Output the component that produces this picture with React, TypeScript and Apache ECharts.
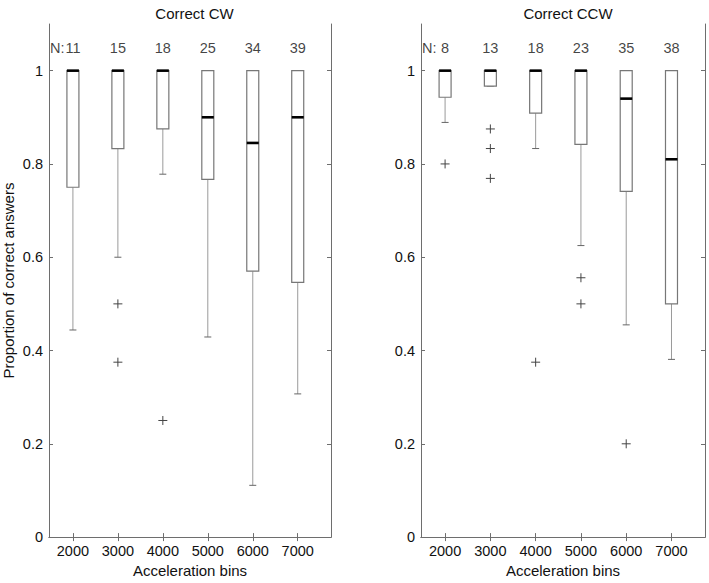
import React, { useEffect, useRef } from "react";
import * as echarts from "echarts";

// Acceleration bins (x positions)
const bins = [2000, 3000, 4000, 5000, 6000, 7000];

// Correct CW: [lowWhisker, Q1, median, Q3, highWhisker]
const cwLow = [0.444, 0.6, 0.778, 0.429, 0.111, 0.307];
const cwQ1 = [0.75, 0.833, 0.875, 0.767, 0.57, 0.546];
const cwMed = [1, 1, 1, 0.9, 0.845, 0.9];
const cwQ3 = [1, 1, 1, 1, 1, 1];
const cwHigh = [1, 1, 1, 1, 1, 1];
const cwN = [11, 15, 18, 25, 34, 39];
const cwOutliers: [number, number][] = [
  [3000, 0.5],
  [3000, 0.375],
  [4000, 0.25],
];

// Correct CCW
const ccwLow = [0.889, 0.967, 0.833, 0.625, 0.455, 0.381];
const ccwQ1 = [0.943, 0.967, 0.909, 0.842, 0.741, 0.5];
const ccwMed = [1, 1, 1, 1, 0.94, 0.81];
const ccwQ3 = [1, 1, 1, 1, 1, 1];
const ccwHigh = [1, 1, 1, 1, 1, 1];
const ccwN = [8, 13, 18, 23, 35, 38];
const ccwOutliers: [number, number][] = [
  [2000, 0.8],
  [3000, 0.875],
  [3000, 0.833],
  [3000, 0.769],
  [4000, 0.375],
  [5000, 0.556],
  [5000, 0.5],
  [6000, 0.2],
];

const titles = ["Correct CW", "Correct CCW"];
const yTickValues = [0, 0.2, 0.4, 0.6, 0.8, 1];

const FONT = "Liberation Sans, Arial, sans-serif";
const FRAME = "#6e6e6e";
const TXT = "#111";
const X_MIN = 1468;
const X_MAX = 7740;
const N_Y = 1.049;
const TICK_FS = 14.5;
const NAME_FS = 15;

function boxData(low: number[], q1: number[], med: number[], q3: number[], high: number[]) {
  return bins.map((b, i) => [b, low[i], q1[i], med[i], q3[i], high[i]]);
}

const renderBox = (params: any, api: any) => {
  const x = api.value(0);
  const pLow = api.coord([x, api.value(1)]);
  const pQ1 = api.coord([x, api.value(2)]);
  const pMed = api.coord([x, api.value(3)]);
  const pQ3 = api.coord([x, api.value(4)]);
  const pHigh = api.coord([x, api.value(5)]);
  const cx = pQ1[0];
  const hw = 6;
  const cap = 3.5;
  const whisk = { stroke: "#9a9a9a", lineWidth: 1 };
  return {
    type: "group",
    children: [
      { type: "line", shape: { x1: cx, y1: pQ1[1], x2: cx, y2: pLow[1] }, style: whisk },
      { type: "line", shape: { x1: cx - cap, y1: pLow[1], x2: cx + cap, y2: pLow[1] }, style: { stroke: "#666", lineWidth: 1 } },
      { type: "line", shape: { x1: cx, y1: pQ3[1], x2: cx, y2: pHigh[1] }, style: whisk },
      {
        type: "rect",
        shape: { x: cx - hw, y: pQ3[1], width: hw * 2, height: pQ1[1] - pQ3[1] },
        style: { fill: "#fff", stroke: "#777", lineWidth: 1.2 },
      },
      { type: "line", shape: { x1: cx - hw, y1: pMed[1], x2: cx + hw, y2: pMed[1] }, style: { stroke: "#000", lineWidth: 2.6 } },
    ],
  };
};

const renderPlus = (params: any, api: any) => {
  const p = api.coord([api.value(0), api.value(1)]);
  const s = 4.5;
  const st = { stroke: "#444", lineWidth: 1 };
  return {
    type: "group",
    children: [
      { type: "line", shape: { x1: p[0] - s, y1: p[1], x2: p[0] + s, y2: p[1] }, style: st },
      { type: "line", shape: { x1: p[0], y1: p[1] - s, x2: p[0], y2: p[1] + s }, style: st },
    ],
  };
};

export default function App() {
  const ref = useRef<HTMLDivElement>(null);
  useEffect(() => {
    if (!ref.current) return;
    const chart = echarts.init(ref.current, undefined, { renderer: "svg" });

    const grids = [
      { left: 48, top: 24, width: 283, bottom: 40 },
      { left: 421, top: 24, width: 284, bottom: 40 },
    ];
    const xAxis: any[] = [];
    const yAxis: any[] = [];
    grids.forEach((g, gi) => {
      xAxis.push({
        type: "value",
        gridIndex: gi,
        min: X_MIN,
        max: X_MAX,
        position: "bottom",
        name: "Acceleration bins",
        nameLocation: "middle",
        nameGap: 24,
        nameTextStyle: { fontSize: NAME_FS, color: TXT, fontFamily: FONT },
        axisLine: { show: true, lineStyle: { color: FRAME } },
        axisTick: { show: true, inside: true, length: 4, lineStyle: { color: FRAME }, customValues: bins },
        axisLabel: {
          show: true,
          fontSize: TICK_FS,
          color: TXT,
          fontFamily: FONT,
          margin: 6,
          customValues: bins,
          formatter: (v: number) => String(v),
        },
        splitLine: { show: false },
      });
      xAxis.push({
        type: "value",
        gridIndex: gi,
        min: X_MIN,
        max: X_MAX,
        position: "top",
        axisLine: { show: true, lineStyle: { color: FRAME } },
        axisTick: { show: true, inside: true, length: 4, lineStyle: { color: FRAME }, customValues: bins },
        axisLabel: { show: false },
        splitLine: { show: false },
      });
      yAxis.push({
        type: "value",
        gridIndex: gi,
        min: 0,
        max: 1.1,
        position: "left",
        name: gi === 0 ? "Proportion of correct answers" : "",
        nameLocation: "middle",
        nameGap: 33,
        nameTextStyle: { fontSize: NAME_FS, color: TXT, fontFamily: FONT },
        axisLine: { show: true, lineStyle: { color: FRAME } },
        axisTick: { show: true, inside: true, length: 4, lineStyle: { color: FRAME }, customValues: yTickValues },
        axisLabel: {
          show: true,
          fontSize: TICK_FS,
          color: TXT,
          fontFamily: FONT,
          margin: 6,
          customValues: yTickValues,
          formatter: (v: number) => String(Math.round(v * 10) / 10),
        },
        splitLine: { show: false },
      });
      yAxis.push({
        type: "value",
        gridIndex: gi,
        min: 0,
        max: 1.1,
        position: "right",
        axisLine: { show: true, lineStyle: { color: FRAME } },
        axisTick: { show: true, inside: true, length: 4, lineStyle: { color: FRAME }, customValues: yTickValues },
        axisLabel: { show: false },
        splitLine: { show: false },
      });
    });

    const sets = [
      { box: boxData(cwLow, cwQ1, cwMed, cwQ3, cwHigh), out: cwOutliers, n: cwN },
      { box: boxData(ccwLow, ccwQ1, ccwMed, ccwQ3, ccwHigh), out: ccwOutliers, n: ccwN },
    ];

    const series: any[] = [];
    sets.forEach((s, gi) => {
      const xi = gi * 2;
      const yi = gi * 2;
      series.push({
        type: "custom",
        xAxisIndex: xi,
        yAxisIndex: yi,
        renderItem: renderBox,
        encode: { x: 0, y: [1, 2, 3, 4, 5] },
        data: s.box,
        silent: true,
      });
      series.push({
        type: "custom",
        xAxisIndex: xi,
        yAxisIndex: yi,
        renderItem: renderPlus,
        encode: { x: 0, y: 1 },
        data: s.out,
        silent: true,
      });
      series.push({
        type: "scatter",
        xAxisIndex: xi,
        yAxisIndex: yi,
        symbolSize: 0,
        data: bins.map((b, i) => [b, N_Y, s.n[i]]),
        label: {
          show: true,
          position: "inside",
          formatter: (p: any) => String(p.value[2]),
          fontSize: TICK_FS,
          color: TXT,
          fontFamily: FONT,
        },
        silent: true,
      });
      series.push({
        type: "scatter",
        xAxisIndex: xi,
        yAxisIndex: yi,
        symbolSize: 0,
        data: [[X_MIN, N_Y]],
        label: {
          show: true,
          position: "right",
          distance: 1,
          formatter: "N:",
          fontSize: TICK_FS,
          color: TXT,
          fontFamily: FONT,
        },
        silent: true,
      });
    });

    chart.setOption({
      animation: false,
      backgroundColor: "#fff",
      title: titles.map((t, i) => ({
        text: t,
        left: i === 0 ? 189.5 : 563,
        top: 1,
        textAlign: "center",
        textStyle: { fontSize: NAME_FS, fontWeight: "normal", color: TXT, fontFamily: FONT },
      })),
      grid: grids,
      xAxis,
      yAxis,
      series,
    });
    return () => chart.dispose();
  }, []);
  return <div ref={ref} style={{ width: 709, height: 583, position: "absolute", left: 0, top: 0 }} />;
}
